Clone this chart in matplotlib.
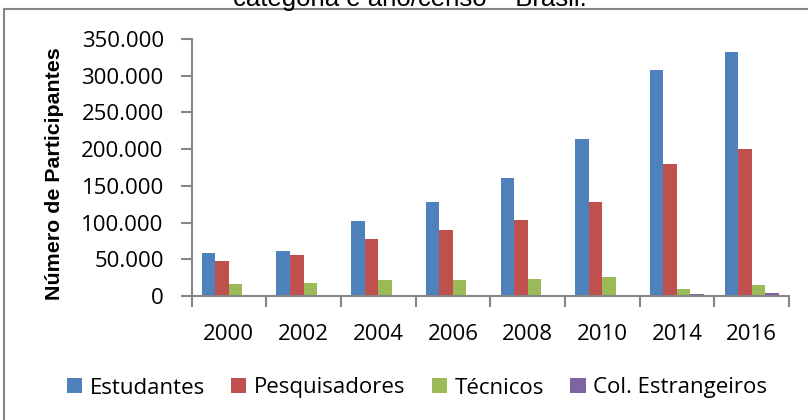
import matplotlib
matplotlib.use("Agg")
import matplotlib.pyplot as plt
import numpy as np
from matplotlib.lines import Line2D
from matplotlib.patches import Patch

years = ["2000", "2002", "2004", "2006", "2008", "2010", "2014", "2016"]
series_names = ["Estudantes", "Pesquisadores", "Técnicos", "Col. Estrangeiros"]
estudantes = [59000, 61300, 102100, 128500, 160700, 213400, 307400, 332000]
pesquisadores = [48100, 56300, 77200, 89900, 103500, 128500, 179800, 199800]
tecnicos = [15900, 17700, 21800, 21800, 23200, 26300, 9500, 15000]
estrangeiros = [0, 0, 0, 0, 0, 0, 2300, 3700]
yticks = [0, 50000, 100000, 150000, 200000, 250000, 300000, 350000]
ytick_labels = ["0", "50.000", "100.000", "150.000", "200.000", "250.000", "300.000", "350.000"]
colors = ["#4F81BD", "#C0504D", "#9BBB59", "#8064A2"]

plt.rcParams['font.family'] = ['Open Sans', 'DejaVu Sans']
W, H = 808, 420
fig = plt.figure(figsize=(W / 100, H / 100), dpi=100)
fig.patch.set_facecolor("white")

ax = fig.add_axes([191.5 / W, 1 - 296 / H, (789 - 191.5) / W, (296 - 39) / H])
axis_gray = "#868686"

n = len(years)
centers = np.arange(n) + 0.5
bw = 0.181
data = [estudantes, pesquisadores, tecnicos, estrangeiros]
for k, (vals, c) in enumerate(zip(data, colors)):
    ax.bar(centers + (k - 1.5) * bw, vals, width=bw, color=c, linewidth=0)

ax.set_xlim(0, n)
ax.set_ylim(0, 350000)
for s in ["top", "right"]:
    ax.spines[s].set_visible(False)
for s in ["left", "bottom"]:
    ax.spines[s].set_color(axis_gray)
    ax.spines[s].set_linewidth(1.5)

ax.set_yticks(yticks)
ax.set_yticklabels(ytick_labels)
ax.tick_params(axis="y", direction="out", length=8, width=1.5, color=axis_gray,
               labelsize=16, pad=12)
ax.set_xticks(np.arange(n + 1))
ax.set_xticklabels([""] * (n + 1))
ax.tick_params(axis="x", which="major", direction="out", length=8, width=1.5, color=axis_gray)
ax.set_xticks(centers, minor=True)
ax.set_xticklabels(years, minor=True)
ax.tick_params(axis="x", which="minor", length=0, labelsize=16, pad=20)

fig.text(55 / W, 1 - 174 / H, "Número de Participantes", rotation=90,
         ha="center", va="center", fontsize=15.4, fontweight="bold",
         family=["Liberation Sans", "DejaVu Sans"])

fig.text(410 / W, 1 - 6 / H, "categoria e ano/censo – Brasil.", ha="center",
         va="baseline", fontsize=18.5, family=["Liberation Sans", "DejaVu Sans"])

fig.add_artist(Line2D([4 / W, 1.0], [1 - 9 / H, 1 - 9 / H], transform=fig.transFigure,
                      color=axis_gray, linewidth=1.5))
fig.add_artist(Line2D([4 / W, 4 / W], [0, 1 - 9 / H], transform=fig.transFigure,
                      color=axis_gray, linewidth=1.5))

handles = [Patch(facecolor=c, edgecolor="none") for c in colors]
fig.legend(handles, series_names, loc="center left", bbox_to_anchor=(67 / W, 1 - 388 / H),
           ncol=4, frameon=False, fontsize=16, handlelength=0.68, handleheight=0.68,
           handletextpad=0.33, columnspacing=1.2, borderpad=0, borderaxespad=0)

fig.savefig("out.png", dpi=100, facecolor="white")
